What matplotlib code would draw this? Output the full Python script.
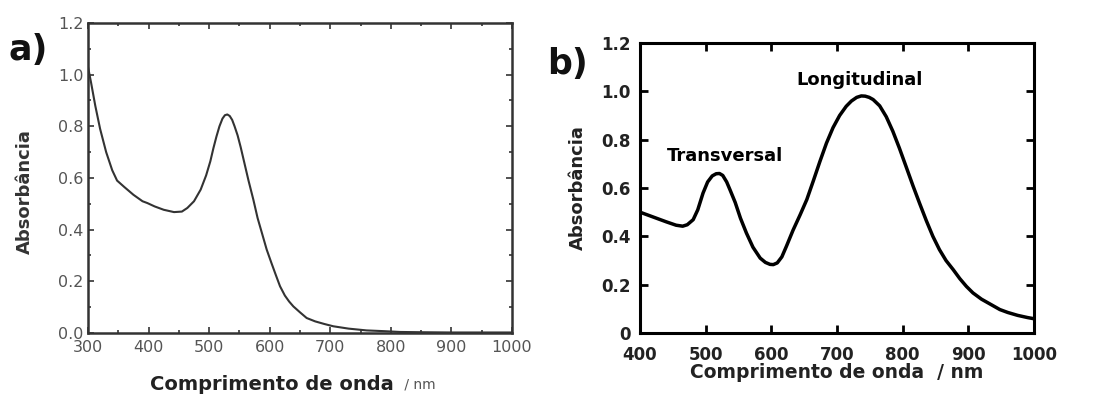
import matplotlib
matplotlib.use("Agg")
import matplotlib.pyplot as plt
from matplotlib.ticker import MultipleLocator

# espectro a) - nanoesferas
wl_a = [300, 305, 312, 320, 330, 340, 348, 360, 375, 390, 398, 410, 425, 442, 455, 464,
        475, 486, 495, 502, 507, 512, 517, 522, 526, 530, 534, 538, 542, 547, 552, 558,
        565, 573, 580, 588, 595, 603, 610, 617, 625, 632, 639, 650, 661, 675, 690, 705,
        730, 760, 790, 815, 850, 900, 950, 1000]
abs_a = [1.03, 0.97, 0.88, 0.79, 0.70, 0.63, 0.59, 0.565, 0.535, 0.51, 0.503, 0.49, 0.477,
         0.468, 0.470, 0.484, 0.51, 0.555, 0.61, 0.665, 0.715, 0.76, 0.80, 0.83, 0.843,
         0.846, 0.84, 0.825, 0.80, 0.765, 0.72, 0.66, 0.59, 0.516, 0.445, 0.38, 0.323,
         0.27, 0.225, 0.181, 0.145, 0.122, 0.103, 0.08, 0.058, 0.045, 0.035, 0.026, 0.017,
         0.010, 0.007, 0.004, 0.003, 0.002, 0.002, 0.002]

# espectro b) - nanobastoes
wl_b = [400, 420, 440, 455, 465, 472, 481, 488, 496, 503, 510, 516, 521, 526, 532, 537,
        545, 553, 562, 572, 583, 591, 598, 603, 609, 616, 623, 633, 644, 654, 664, 674,
        684, 694, 704, 714, 722, 730, 737, 743, 749, 755, 765, 775, 785, 795, 805, 816,
        826, 836, 846, 856, 866, 877, 887, 897, 907, 920, 935, 948, 960, 975, 990, 1000]
abs_b = [0.50, 0.48, 0.46, 0.446, 0.442, 0.448, 0.469, 0.51, 0.579, 0.625, 0.65, 0.659,
         0.66, 0.652, 0.625, 0.593, 0.54, 0.475, 0.414, 0.355, 0.31, 0.292, 0.284, 0.283,
         0.29, 0.315, 0.359, 0.425, 0.49, 0.552, 0.63, 0.71, 0.786, 0.85, 0.90, 0.938,
         0.96, 0.975, 0.981, 0.98, 0.975, 0.966, 0.94, 0.895, 0.835, 0.765, 0.69, 0.607,
         0.535, 0.465, 0.40, 0.345, 0.30, 0.262, 0.225, 0.193, 0.166, 0.14, 0.117, 0.097,
         0.085, 0.073, 0.064, 0.059]

ticks_a_x = [300, 400, 500, 600, 700, 800, 900, 1000]
ticks_a_y = [0.0, 0.2, 0.4, 0.6, 0.8, 1.0, 1.2]
ticks_b_x = [400, 500, 600, 700, 800, 900, 1000]
ticks_b_y = [0, 0.2, 0.4, 0.6, 0.8, 1.0, 1.2]
labels_b_y = ["0", "0.2", "0.4", "0.6", "0.8", "1.0", "1.2"]

W, H = 1098, 396
fig = plt.figure(figsize=(W / 100, H / 100), dpi=100)


def ax_px(x0, y0, x1, y1):
    # caixa em pixels (origem no topo esquerdo)
    return fig.add_axes([x0 / W, 1 - y1 / H, (x1 - x0) / W, (y1 - y0) / H])


# ---------------- a) ----------------
ax1 = ax_px(88, 23, 512, 333)
ax1.plot(wl_a, abs_a, color="#333333", lw=1.5)
ax1.set_xlim(300, 1000)
ax1.set_ylim(0, 1.2)
ax1.set_xticks(ticks_a_x)
ax1.set_yticks(ticks_a_y)
ax1.set_xticklabels([str(t) for t in ticks_a_x])
ax1.set_yticklabels([f"{t:.1f}" for t in ticks_a_y])
ax1.xaxis.set_minor_locator(MultipleLocator(50))
ax1.yaxis.set_minor_locator(MultipleLocator(0.1))
ax1.tick_params(which="both", direction="in", top=True, right=True,
                labelsize=11.5, labelcolor="#555555", color="#333333", width=1.2)
ax1.tick_params(axis="x", pad=5)
ax1.tick_params(axis="y", pad=3)
ax1.tick_params(which="major", length=4)
ax1.tick_params(which="minor", length=2.5)
for s in ax1.spines.values():
    s.set_linewidth(1.8)
    s.set_color("#333333")
fig.text(150 / W, 1 - 385 / H, "Comprimento de onda", fontsize=14, fontweight="bold",
         ha="left", va="center", color="#222222")
fig.text(400 / W, 1 - 385 / H, " / nm", fontsize=10, ha="left", va="center", color="#555555")
fig.text(25 / W, 1 - 192 / H, "Absorbância", fontsize=13, fontweight="bold",
         rotation=90, ha="center", va="center", color="#333333")
fig.text(8 / W, 1 - 50 / H, "a)", fontsize=25, fontweight="heavy", ha="left", va="center",
         color="#111111")

# ---------------- b) ----------------
ax2 = ax_px(640, 43, 1034, 333)
ax2.plot(wl_b, abs_b, color="black", lw=2.5)
ax2.set_xlim(400, 1000)
ax2.set_ylim(0, 1.2)
ax2.set_xticks(ticks_b_x)
ax2.set_yticks(ticks_b_y)
ax2.set_xticklabels([str(t) for t in ticks_b_x], fontweight="bold")
ax2.set_yticklabels(labels_b_y, fontweight="bold")
ax2.tick_params(direction="in", top=True, right=True, length=6, width=2,
                labelsize=12, labelcolor="#222222")
ax2.tick_params(axis="x", pad=9)
ax2.tick_params(axis="y", pad=7)
for s in ax2.spines.values():
    s.set_linewidth(2.2)
ax2.set_xlabel("Comprimento de onda  / nm", fontsize=13.5, fontweight="bold",
               color="#222222", labelpad=0)
ax2.set_ylabel("Absorbância", fontsize=13, fontweight="bold", color="#222222", labelpad=10)
ax2.text(441, 0.731, "Transversal", fontsize=13, fontweight="bold", ha="left", va="center")
ax2.text(638, 1.048, "Longitudinal", fontsize=13, fontweight="bold", ha="left", va="center")
fig.text(547 / W, 1 - 64 / H, "b)", fontsize=25, fontweight="heavy", ha="left", va="center",
         color="#111111")

fig.savefig("out.png", dpi=100)
